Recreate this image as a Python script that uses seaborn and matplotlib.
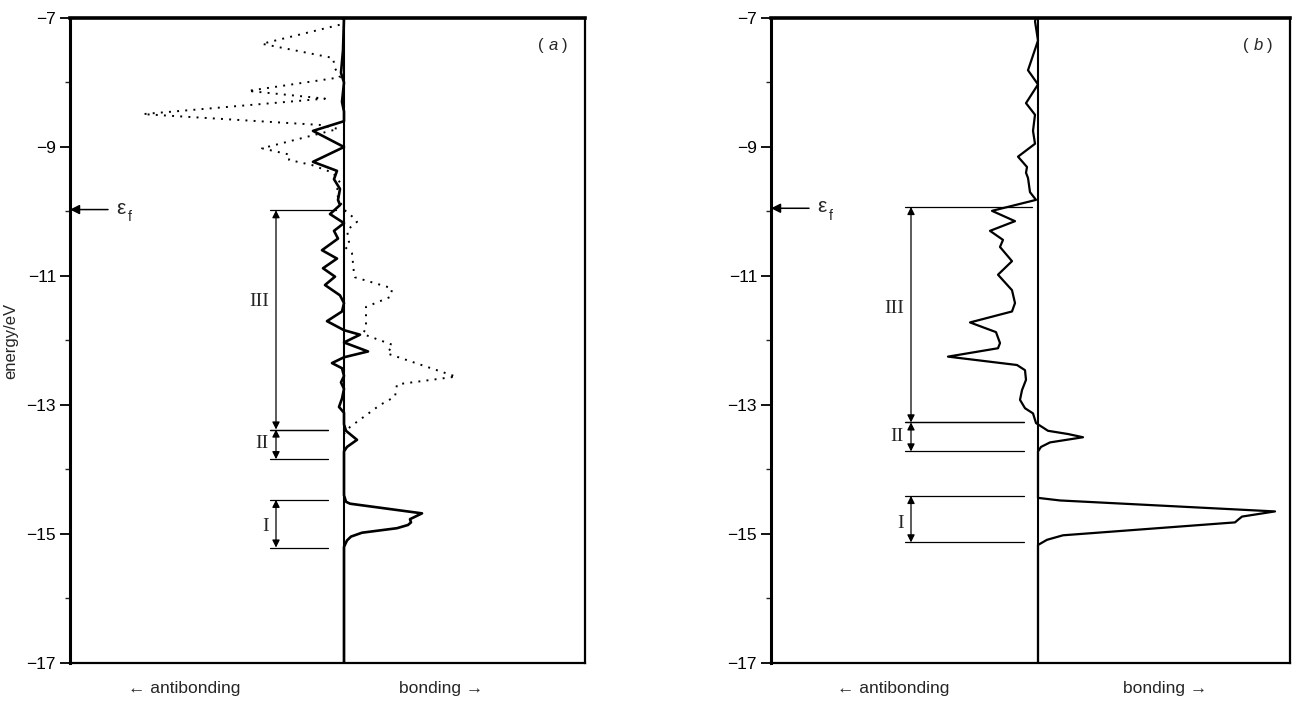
import matplotlib
matplotlib.use("Agg")
import matplotlib.pyplot as plt
import seaborn as sns
import pandas as pd

# ---------------- data ----------------
# panel (a): solid COOP curve
energy_a_solid = [-7.00, -7.50, -7.85, -8.00, -8.30, -8.45, -8.60, -8.75, -9.00, -9.23,
                  -9.37, -9.50, -9.65, -9.82, -9.90, -10.04, -10.18, -10.30, -10.42, -10.60,
                  -10.73, -10.88, -11.01, -11.14, -11.30, -11.42, -11.55, -11.70, -11.84, -11.91,
                  -12.03, -12.17, -12.26, -12.35, -12.43, -12.55, -12.65, -12.75, -12.90, -13.03,
                  -13.12, -13.30, -13.40, -13.54, -13.65, -13.72, -14.40, -14.50, -14.53, -14.68,
                  -14.77, -14.82, -14.86, -14.91, -14.98, -15.04, -15.10, -15.20, -17.00]
coop_a_solid = [0.00, -0.01, -0.03, 0.00, -0.02, 0.00, 0.00, -0.31, 0.00, -0.31,
                -0.07, -0.10, -0.04, -0.06, -0.04, -0.14, 0.00, -0.10, -0.06, -0.22,
                -0.07, -0.21, -0.09, -0.19, -0.04, 0.00, -0.02, -0.17, 0.00, 0.16,
                0.00, 0.24, 0.00, -0.12, -0.02, 0.00, -0.03, 0.00, -0.02, -0.05,
                0.00, 0.00, 0.02, 0.13, 0.03, 0.00, 0.00, 0.02, 0.06, 0.78,
                0.66, 0.67, 0.64, 0.53, 0.18, 0.07, 0.03, 0.00, 0.00]

# panel (a): dotted COOP curve
energy_a_dotted = [-7.00, -7.10, -7.40, -7.62, -7.78, -7.92, -8.13, -8.25, -8.49, -8.66,
                   -8.72, -9.02, -9.12, -9.20, -9.28, -9.40, -9.55, -9.70, -9.88, -10.00,
                   -10.10, -10.16, -10.29, -10.47, -10.55, -10.65, -10.96, -11.02, -11.19, -11.32,
                   -11.48, -11.80, -11.90, -12.07, -12.20, -12.56, -12.68, -12.87, -13.00, -13.34,
                   -13.45]
coop_a_dotted = [-0.01, -0.03, -0.82, -0.11, -0.09, -0.04, -0.96, -0.19, -2.01, -0.22,
                 -0.06, -0.82, -0.54, -0.55, -0.32, -0.11, -0.04, -0.08, -0.03, 0.02,
                 0.10, 0.13, 0.03, 0.05, 0.01, 0.08, 0.10, 0.11, 0.48, 0.47,
                 0.22, 0.22, 0.19, 0.49, 0.43, 1.12, 0.53, 0.51, 0.36, 0.06,
                 0.00]

# panel (b): solid COOP curve
energy_b = [-7.00, -7.05, -7.35, -7.81, -8.03, -8.32, -8.50, -8.75, -8.95, -9.15,
            -9.31, -9.40, -9.48, -9.70, -9.82, -9.99, -10.15, -10.30, -10.44, -10.55,
            -10.77, -10.98, -11.22, -11.42, -11.55, -11.72, -11.87, -12.04, -12.12, -12.25,
            -12.38, -12.46, -12.61, -12.77, -12.92, -13.05, -13.13, -13.28, -13.34, -13.40,
            -13.45, -13.50, -13.58, -13.65, -13.72, -14.44, -14.48, -14.65, -14.73, -14.78,
            -14.82, -15.02, -15.09, -15.17, -17.00]
coop_b = [-0.02, -0.03, 0.00, -0.10, 0.00, -0.12, -0.03, -0.05, -0.03, -0.20,
          -0.11, -0.12, -0.10, -0.08, -0.02, -0.46, -0.23, -0.48, -0.35, -0.38,
          -0.26, -0.40, -0.26, -0.23, -0.26, -0.68, -0.42, -0.38, -0.40, -0.90,
          -0.21, -0.13, -0.12, -0.16, -0.18, -0.13, -0.05, -0.02, 0.04, 0.10,
          0.30, 0.45, 0.12, 0.03, 0.00, 0.00, 0.22, 2.37, 2.04, 2.00,
          1.97, 0.25, 0.09, 0.00, 0.00]

# Fermi levels and region brackets
fermi_levels = [-9.97, -9.95]
region_names = ["III", "II", "I"]
region_top_a = [-9.98, -13.38, -14.47]
region_bottom_a = [-13.38, -13.84, -15.21]
region_top_b = [-9.93, -13.27, -14.41]
region_bottom_b = [-13.27, -13.72, -15.13]
region_label_y_a = [-11.40, -13.59, -14.88]
region_label_y_b = [-11.50, -13.49, -14.83]

y_major = [-7, -9, -11, -13, -15, -17]
y_minor = [-8, -10, -12, -14, -16]
panel_tags = ["a", "b"]

# ---------------- figure ----------------
sns.set_theme(style="white")
plt.rcParams["font.family"] = ["Liberation Sans", "DejaVu Sans"]

W, H = 1305, 701
fig = plt.figure(figsize=(W / 100, H / 100), dpi=100)
fig.patch.set_facecolor("white")

top_px, bot_px = 18, 663
ax_a = fig.add_axes([70 / W, 1 - bot_px / H, (585 - 70) / W, (bot_px - top_px) / H])
ax_b = fig.add_axes([771 / W, 1 - bot_px / H, (1290 - 771) / W, (bot_px - top_px) / H])

df_a_solid = pd.DataFrame({"energy": energy_a_solid, "coop": coop_a_solid})
df_a_dot = pd.DataFrame({"energy": energy_a_dotted, "coop": coop_a_dotted})
df_b = pd.DataFrame({"energy": energy_b, "coop": coop_b})

sns.lineplot(data=df_a_dot, x="coop", y="energy", orient="y", sort=False, estimator=None,
             ax=ax_a, color="black", lw=1.4, linestyle=(0, (1, 3.2)), legend=False)
sns.lineplot(data=df_a_solid, x="coop", y="energy", orient="y", sort=False, estimator=None,
             ax=ax_a, color="black", lw=1.9, legend=False)
sns.lineplot(data=df_b, x="coop", y="energy", orient="y", sort=False, estimator=None,
             ax=ax_b, color="black", lw=1.6, legend=False)

xlims = [(-2.74, 2.41), (-2.67, 2.52)]
arrow_x = [-0.68, -1.27]
line_x = [(-0.74, -0.16), (-1.33, -0.14)]
tag_x = [2.09, 2.20]
anti_x = [-1.60, -1.45]
bond_x = [0.97, 1.27]

for i, ax in enumerate([ax_a, ax_b]):
    ax.set_xlim(*xlims[i])
    ax.set_ylim(-17, -7)
    ax.axvline(0, color="black", lw=1.5, zorder=1)
    ax.set_xticks([])
    ax.set_yticks(y_major)
    ax.set_yticks(y_minor, minor=True)
    ax.set_yticklabels([f"\u2212{abs(v)}" for v in y_major])
    ax.tick_params(axis="y", which="major", direction="out", length=7, width=1.3,
                   labelsize=12.5, pad=3, colors="black", left=True)
    ax.tick_params(axis="y", which="minor", direction="out", length=3.5, width=1.0,
                   left=True)
    ax.set_xlabel("")
    ax.set_ylabel("")
    for side, sp in ax.spines.items():
        sp.set_color("black")
        sp.set_visible(True)
        sp.set_linewidth(1.6)
    ax.spines["top"].set_linewidth(2.6)
    ax.spines["left"].set_linewidth(2.2)

    # Fermi level arrow
    xl = xlims[i][0]
    ef = fermi_levels[i]
    ax.annotate("", xy=(xl, ef), xytext=(xl + 0.38, ef),
                arrowprops=dict(arrowstyle="-|>", color="black", lw=1.1,
                                mutation_scale=14, shrinkA=0, shrinkB=0))
    ax.text(xl + 0.46, ef + 0.02, "\u03b5", fontsize=15, ha="left", va="center")
    ax.text(xl + 0.58, ef - 0.12, "f", fontsize=10, ha="left", va="center")

    # brackets
    tops = region_top_a if i == 0 else region_top_b
    bots = region_bottom_a if i == 0 else region_bottom_b
    labs_y = region_label_y_a if i == 0 else region_label_y_b
    x0, x1 = line_x[i]
    for j, name in enumerate(region_names):
        ax.plot([x0, x1 + (0.08 if j == 0 else 0.0)], [tops[j], tops[j]],
                color="black", lw=0.9)
        ax.plot([x0, x1], [bots[j], bots[j]], color="black", lw=0.9)
        ax.annotate("", xy=(arrow_x[i], bots[j]), xytext=(arrow_x[i], tops[j]),
                    arrowprops=dict(arrowstyle="<|-|>", color="black", lw=0.9,
                                    mutation_scale=11, shrinkA=0, shrinkB=0))
        ax.text(arrow_x[i] - 0.07, labs_y[j], name, family="Liberation Serif",
                fontsize=14, ha="right", va="center")

    ax.text(tag_x[i] - 0.09, -7.42, "(", fontsize=12, ha="right", va="center")
    ax.text(tag_x[i], -7.42, panel_tags[i], fontsize=12, fontstyle="italic",
            ha="center", va="center")
    ax.text(tag_x[i] + 0.09, -7.42, ")", fontsize=12, ha="left", va="center")
    ax.text(anti_x[i], -17.4, "\u2190 antibonding", fontsize=12.5, ha="center",
            va="center")
    ax.text(bond_x[i], -17.4, "bonding \u2192", fontsize=12.5, ha="center",
            va="center")

ax_a.set_ylabel("energy/eV", fontsize=12)
ax_a.yaxis.set_label_coords(-0.100, 0.5)

fig.savefig("out.png", dpi=100, facecolor="white")
